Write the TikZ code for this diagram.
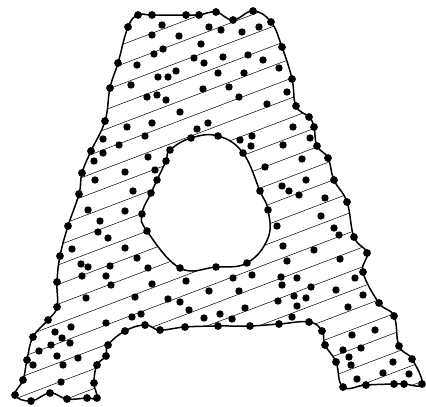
\documentclass[tikz,border=0pt]{standalone}
\usepackage{tikz}

% outline of the letter and of its hole (pixel units, y down)
\newcommand{\outerA}{plot[smooth cycle, tension=.7] coordinates {
  (138,15) (152,15) (186,15) (199,15) (216,12) (233,20) (253,11) (271,22)
  (282,47) (292,79) (296,106) (309,117) (314,127) (317,146) (328,158) (334,180)
  (347,202) (354,237) (367,253) (363,272) (379,303) (394,316) (399,346) (412,359)
  (422,384) (404,384) (394,384) (366,385) (343,387) (336,362) (325,345) (322,331)
  (309,322) (279,324) (250,326) (218,326) (185,327) (160,330) (145,325) (125,331)
  (108,345) (106,356) (97,365) (94,383) (97,398) (87,398) (67,399) (50,393)
  (31,401) (15,395) (23,380) (27,360) (33,337) (48,320) (57,307) (57,282)
  (60,256) (68,226) (79,194) (82,173) (91,151) (105,121) (110,88) (118,63) (128,27)}}
\newcommand{\holeA}{plot[smooth cycle, tension=.7] coordinates {
  (191,138) (218,136) (243,153) (260,191) (268,210) (268,238) (247,263) (216,267)
  (180,268) (147,231) (142,214) (151,193) (157,180) (166,161) (170,150)}}

\begin{document}
\begin{tikzpicture}[x=1pt, y=-1pt,
  edge/.style={line width=1.5pt, line join=round},
  hatch/.style={line width=.5pt},
  knot/.style={mark=*, mark size=3.1pt},
  dot/.style={fill=black}]
\useasboundingbox (0,0) rectangle (426,407);
% hatching
\begin{scope}[even odd rule]
  \clip \outerA \holeA;
  \foreach \c in {0,...,23}
    \draw[hatch] (0,91+19.6*\c) -- ++(430,-163.4);
\end{scope}
% boundary with its points
\draw[edge, knot] \outerA;
\draw[edge] \holeA;
\foreach \p in {(191,138),(218,136),(243,153),(260,191),(268,210),(247,263),(216,267),
  (180,268),(147,231),(142,214),(151,193),(157,180),(166,161),(170,150)}
  \fill[dot] \p circle[radius=3.8pt];
% interior points
\foreach \p in {
  (162,25),(152,35),(179,36),(209,27),(221,30),(242,32),(259,27),
  (201,44),(163,49),(154,54),(137,65),(194,58),(204,63),(223,57),(248,55),(263,60),(279,68),
  (176,71),(158,77),(168,77),(218,73),(244,73),
  (131,85),(203,89),(229,87),(287,92),
  (147,97),(157,95),(166,100),(239,97),(267,104),
  (180,112),(152,123),(127,127),(197,129),(208,123),(293,127),
  (145,136),(103,139),(119,145),(103,153),(94,161),(148,157),
  (240,140),(252,136),(251,146),(283,145),(310,138),(302,159),(265,167),
  (125,172),(155,170),(95,180),(133,191),
  (306,180),(282,186),(289,191),(299,195),(325,198),
  (88,210),(125,211),(100,221),(98,232),(108,238),
  (321,216),(277,226),(334,228),(339,235),
  (72,249),(125,248),(137,258),(81,264),(88,267),(110,266),(148,268),
  (283,246),(314,250),(340,259),(287,261),
  (82,276),(106,276),(111,285),(152,284),(186,281),(233,278),(252,275),(281,277),
  (282,285),(297,278),(311,287),(355,278),
  (86,298),(135,297),(168,299),(180,302),(209,291),(239,291),(278,301),(294,296),
  (306,298),(336,290),(363,295),
  (189,310),(245,308),(297,306),(348,307),
  (132,317),(141,314),(106,323),(71,327),(55,332),(62,338),(51,345),(70,343),
  (39,351),(57,356),(78,358),(33,365),(63,365),(61,382),
  (204,318),(220,314),(232,319),(292,317),
  (352,335),(375,330),(343,350),(361,348),(349,357),(351,365),(383,373),(409,374),
  (357,379),(393,362)}
  \fill[dot] \p circle[radius=3.7pt];
\end{tikzpicture}
\end{document}
